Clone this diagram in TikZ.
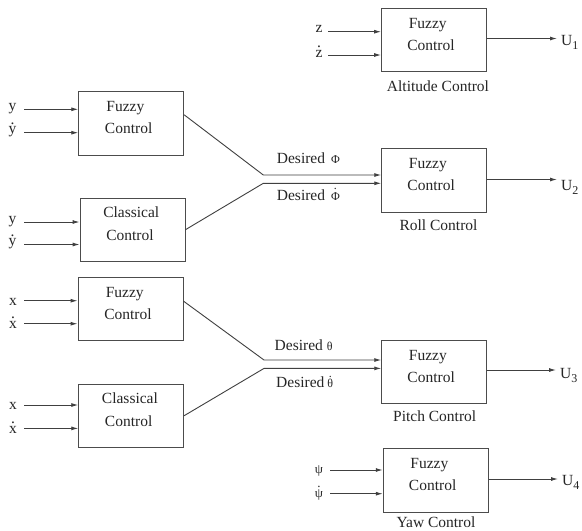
\documentclass[tikz,border=0pt]{standalone}
\usepackage{fontspec}
\setmainfont{Liberation Serif}
\usetikzlibrary{calc,arrows.meta}
\newcommand\dotted[2][0.6em]{\ooalign{#2\cr\hidewidth\raisebox{#1}{.}\hidewidth}}
\newcommand\smallsym[1]{{\fontsize{12}{12}\selectfont #1}}
\newcommand\Usub[1]{U\raisebox{-4pt}{\fontsize{12}{12}\selectfont #1}}
\tikzset{
  blk/.style={draw=black!70, line width=0.9pt, minimum width=105pt, minimum height=63.5pt, inner sep=0pt},
  txt/.style={font=\fontsize{15.5}{18}\selectfont, inner sep=0pt, text=black!85},
  inl/.style={txt, anchor=base west},
  captxt/.style={txt, anchor=base},
  arr/.style={draw=black!75, line width=0.9pt, -{Latex[length=7pt,width=4pt]}},
}
\begin{document}
\begin{tikzpicture}[x=1pt,y=-1pt]
\useasboundingbox[fill=white] (0,0) rectangle (582,531);

% ---------- boxes ----------
\node[blk] (A)  at (434,40) {};
\node[blk] (F1) at (131.2,123.5) {};
\node[blk] (C1) at (132.5,229.7) {};
\node[blk] (R)  at (434.2,180.3) {};
\node[blk] (F2) at (130.5,308.8) {};
\node[blk] (C2) at (131.2,415.7) {};
\node[blk] (P)  at (434.2,371.9) {};
\node[blk] (Y)  at (435.7,480.5) {};

% ---------- box texts ----------
\node[inl] (A1) at ($(A.north west)+(27.5,20.3)$) {Fuzzy};
\node[inl] (A2) at ($(A.north west)+(26,42.4)$) {Control};
\node[inl] (F11) at ($(F1.north west)+(28,20.5)$) {Fuzzy};
\node[inl] (F12) at ($(F1.north west)+(26.5,42.5)$) {Control};
\node[inl] (C11) at ($(C1.north west)+(23.5,20)$) {Classical};
\node[inl] (C12) at ($(C1.north west)+(26.5,43)$) {Control};
\node[inl] (R1) at ($(R.north west)+(27.5,20.3)$) {Fuzzy};
\node[inl] (R2) at ($(R.north west)+(26,42.4)$) {Control};
\node[inl] (F21) at ($(F2.north west)+(28,20.5)$) {Fuzzy};
\node[inl] (F22) at ($(F2.north west)+(26.5,42.5)$) {Control};
\node[inl] (C21) at ($(C2.north west)+(23.5,20)$) {Classical};
\node[inl] (C22) at ($(C2.north west)+(26.5,43)$) {Control};
\node[inl] (P1) at ($(P.north west)+(27.5,20.3)$) {Fuzzy};
\node[inl] (P2) at ($(P.north west)+(26,42.4)$) {Control};
\node[inl] (Y1) at ($(Y.north west)+(27.5,20.3)$) {Fuzzy};
\node[inl] (Y2) at ($(Y.north west)+(26,42.4)$) {Control};

% ---------- captions ----------
\node[captxt] (Acap) at (438,91) {Altitude Control};
\node[captxt] (Rcap) at (438.5,230) {Roll Control};
\node[captxt] (Pcap) at (434.7,421.7) {Pitch Control};
\node[captxt] (Ycap) at (436,527) {Yaw Control};

% ---------- inputs: altitude ----------
\coordinate (az1) at (328.3,31.7);
\coordinate (az2) at (328.3,55);
\draw[arr] (az1) -- (az1 -| A.west);
\draw[arr] (az2) -- (az2 -| A.west);
\node[captxt] (lz1) at (319,32.5) {z};
\node[captxt] (lz2) at (319,57) {\dotted{z}};

% ---------- inputs: roll side ----------
\coordinate (fy1) at (24,109.3);
\coordinate (fy2) at (24,132.7);
\coordinate (cy1) at (24,222);
\coordinate (cy2) at (24,244.5);
\draw[arr] (fy1) -- (fy1 -| F1.west);
\draw[arr] (fy2) -- (fy2 -| F1.west);
\draw[arr] (cy1) -- (cy1 -| C1.west);
\draw[arr] (cy2) -- (cy2 -| C1.west);
\node[captxt] (ly1) at (12.5,110.3) {y};
\node[captxt] (ly2) at (12.5,133.7) {\dotted{y}};
\node[captxt] (ly3) at (12.5,223) {y};
\node[captxt] (ly4) at (12.5,245.5) {\dotted{y}};

% ---------- inputs: pitch side ----------
\coordinate (fx1) at (24,300.7);
\coordinate (fx2) at (24,323.7);
\coordinate (cx1) at (24,405);
\coordinate (cx2) at (24,428.4);
\draw[arr] (fx1) -- (fx1 -| F2.west);
\draw[arr] (fx2) -- (fx2 -| F2.west);
\draw[arr] (cx1) -- (cx1 -| C2.west);
\draw[arr] (cx2) -- (cx2 -| C2.west);
\node[captxt] (lx1) at (13,305) {x};
\node[captxt] (lx2) at (13,328) {\dotted{x}};
\node[captxt] (lx3) at (13,409.5) {x};
\node[captxt] (lx4) at (13,433) {\dotted{x}};

% ---------- inputs: yaw ----------
\coordinate (yp1) at (330,470);
\coordinate (yp2) at (330,493.7);
\draw[arr] (yp1) -- (yp1 -| Y.west);
\draw[arr] (yp2) -- (yp2 -| Y.west);
\node[captxt] (lp1) at (319,473) {\fontsize{13}{13}\selectfont ψ};
\node[captxt] (lp2) at (319,497) {\fontsize{13}{13}\selectfont\dotted[0.75em]{ψ}};

% ---------- merging connectors ----------
\coordinate (j1) at (263.3,175);
\coordinate (j2) at (263.3,183.3);
\coordinate (j3) at (264,360);
\coordinate (j4) at (264,368.4);
\draw[arr] ($(F1.north east)+(0,23.5)$) -- (j1) -- (j1 -| R.west);
\draw[arr] (C1.east) -- (j2) -- (j2 -| R.west);
\draw[arr] ($(F2.north east)+(0,24.5)$) -- (j3) -- (j3 -| P.west);
\draw[arr] (C2.east) -- (j4) -- (j4 -| P.west);
\node[inl] (dphi)  at (276.7,163.3) {Desired\hspace{6pt}\smallsym{Φ}};
\node[inl] (dphid) at (276.7,200)   {Desired\hspace{6pt}\smallsym{\dotted[0.85em]{Φ}}};
\node[inl] (dth)   at (274.5,350)   {Desired\hspace{4pt}\smallsym{θ}};
\node[inl] (dthd)  at (276,387.5)   {Desired\hspace{3pt}\smallsym{\dotted[0.85em]{θ}}};

% ---------- outputs ----------
\coordinate (u1) at (557,38.5);
\coordinate (u2) at (557,179.5);
\coordinate (u3) at (556,370);
\coordinate (u4) at (558,479);
\draw[arr] (u1 -| A.east) -- (u1);
\draw[arr] (u2 -| R.east) -- (u2);
\draw[arr] (u3 -| P.east) -- (u3);
\draw[arr] (u4 -| Y.east) -- (u4);
\node[inl] (U1) at (561,45)  {\Usub{1}};
\node[inl] (U2) at (561,190) {\Usub{2}};
\node[inl] (U3) at (560,378) {\Usub{3}};
\node[inl] (U4) at (562,485) {\Usub{4}};
\end{tikzpicture}
\end{document}
